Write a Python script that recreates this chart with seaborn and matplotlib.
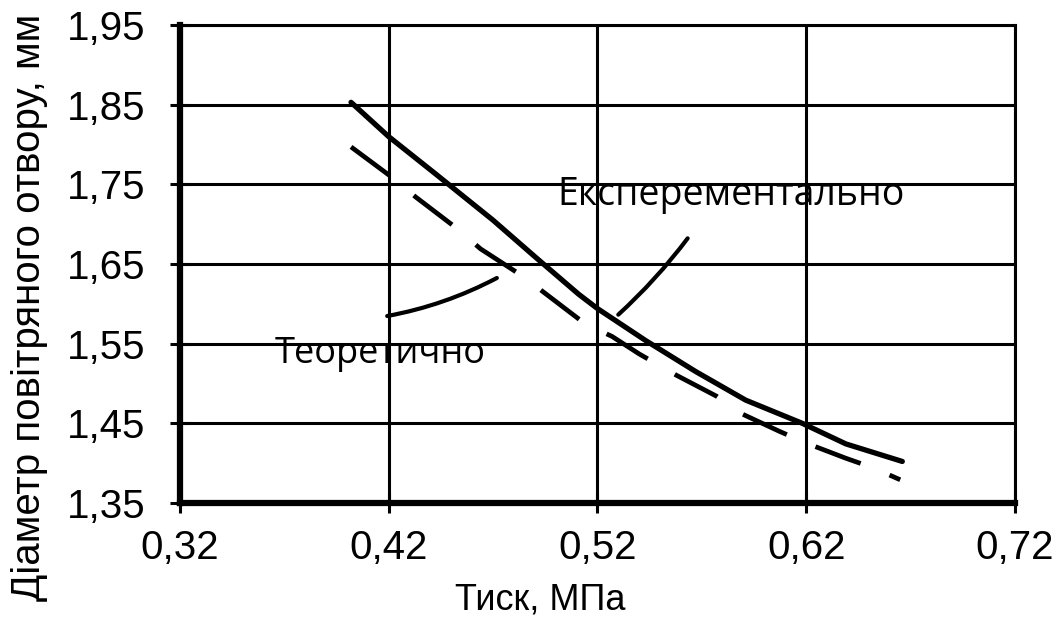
import matplotlib
matplotlib.use("Agg")
import matplotlib.pyplot as plt
import seaborn as sns
import pandas as pd

# --- data ---
exp_x = [0.402, 0.420, 0.443, 0.470, 0.491, 0.511, 0.520, 0.543, 0.567, 0.591, 0.618, 0.639, 0.666]
exp_y = [1.853, 1.810, 1.762, 1.705, 1.657, 1.612, 1.594, 1.554, 1.515, 1.479, 1.450, 1.424, 1.402]

theo_x = [0.402, 0.421, 0.433, 0.453, 0.464, 0.484, 0.495, 0.514, 0.527, 0.540, 0.558, 0.577,
          0.589, 0.607, 0.620, 0.639, 0.652, 0.665]
theo_y = [1.797, 1.760, 1.734, 1.694, 1.669, 1.635, 1.613, 1.575, 1.559, 1.537, 1.510, 1.484,
          1.462, 1.440, 1.425, 1.406, 1.394, 1.379]

x_ticks = [0.32, 0.42, 0.52, 0.62, 0.72]
y_ticks = [1.35, 1.45, 1.55, 1.65, 1.75, 1.85, 1.95]
x_ticklabels = ["0,32", "0,42", "0,52", "0,62", "0,72"]
y_ticklabels = ["1,35", "1,45", "1,55", "1,65", "1,75", "1,85", "1,95"]

x_label = "Тиск, МПа"
y_label = "Діаметр повітряного отвору, мм"
label_exp = "Експерементально"
label_theo = "Теоретично"

# annotation anchors (data coords)
exp_text_pos = (0.584, 1.736)
exp_leader = [(0.529, 1.584), (0.564, 1.685)]
theo_text_pos = (0.416, 1.537)
theo_leader = [(0.418, 1.584), (0.473, 1.634)]

sns.set_theme(style="white")
plt.rcParams["font.family"] = ["Liberation Sans", "DejaVu Sans"]
plt.rcParams["text.color"] = "black"
plt.rcParams["axes.labelcolor"] = "black"
plt.rcParams["xtick.color"] = "black"
plt.rcParams["ytick.color"] = "black"

df_exp = pd.DataFrame({"x": exp_x, "y": exp_y})
df_theo = pd.DataFrame({"x": theo_x, "y": theo_y})

fig = plt.figure(figsize=(10.64, 6.27), dpi=100)
ax = fig.add_axes([0.169, 0.198, 0.785, 0.762])

sns.lineplot(data=df_exp, x="x", y="y", ax=ax, color="black", lw=3.8,
             sort=False, estimator=None)
sns.lineplot(data=df_theo, x="x", y="y", ax=ax, color="black", lw=3.4,
             sort=False, estimator=None)
ax.lines[-1].set_dashes((10.2, 6.6))

ax.set_xlim(0.32, 0.72)
ax.set_ylim(1.35, 1.95)
ax.set_xticks(x_ticks)
ax.set_yticks(y_ticks)
ax.set_xticklabels(x_ticklabels, family=["Liberation Sans", "DejaVu Sans"], fontsize=29)
ax.set_yticklabels(y_ticklabels, family=["Liberation Sans", "DejaVu Sans"], fontsize=29)

ax.grid(True, color="black", lw=2.2)
ax.set_axisbelow(True)
for side in ["left", "bottom"]:
    ax.spines[side].set_linewidth(4.5)
    ax.spines[side].set_color("black")
for side in ["top", "right"]:
    ax.spines[side].set_linewidth(2.2)
    ax.spines[side].set_color("black")
ax.tick_params(axis="both", direction="inout", length=14, width=2.2, color="black",
               bottom=True, left=True)
ax.tick_params(axis="y", pad=18)
ax.tick_params(axis="x", pad=12)

ax.set_xlabel(x_label, family=["Liberation Sans", "DejaVu Sans"], fontsize=26)
ax.set_ylabel(y_label, family=["Liberation Sans", "DejaVu Sans"], fontsize=29)
ax.xaxis.set_label_coords(0.431, -0.203)
ax.yaxis.set_label_coords(-0.18, 0.41)
ax.xaxis.label.set_va("center")
ax.yaxis.label.set_va("center")

ax.text(*exp_text_pos, label_exp, family=["Open Sans", "DejaVu Sans"], fontsize=27,
        ha="center", va="center", color="black")
ax.text(*theo_text_pos, label_theo, family=["Open Sans", "DejaVu Sans"], fontsize=26,
        ha="center", va="center", color="black")
ax.annotate("", xy=exp_leader[1], xytext=exp_leader[0],
            arrowprops=dict(arrowstyle="-", color="black", lw=3, connectionstyle="arc3,rad=0.05"))
ax.annotate("", xy=theo_leader[1], xytext=theo_leader[0],
            arrowprops=dict(arrowstyle="-", color="black", lw=3, connectionstyle="arc3,rad=0.08"))

if ax.get_legend():
    ax.get_legend().remove()

fig.savefig("out.png", dpi=100, facecolor="white")
